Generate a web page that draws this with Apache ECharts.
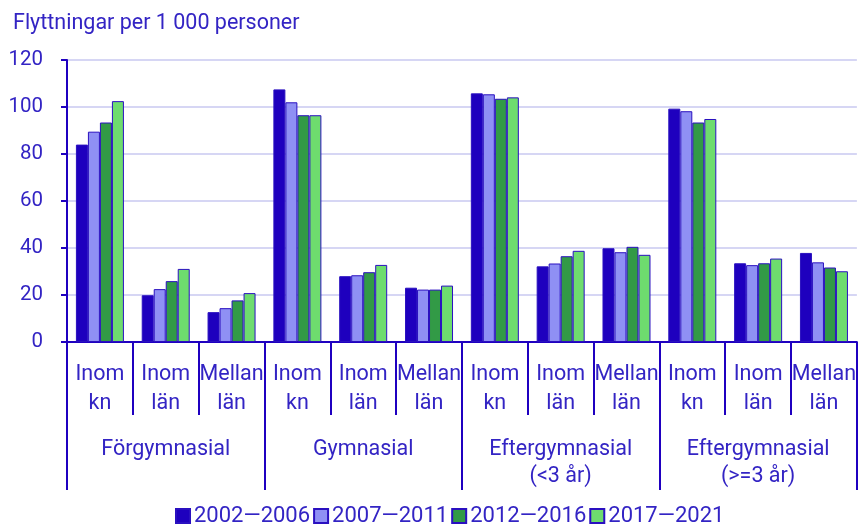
<!DOCTYPE html>
<html>
<head>
<meta charset="utf-8">
<script src="https://cdn.jsdelivr.net/npm/echarts@6/dist/echarts.min.js"></script>
<style>
  html, body { margin: 0; padding: 0; background: #fff; }
  #chart { width: 859px; height: 524px; }
</style>
</head>
<body>
<div id="chart"></div>
<script>
var subLabels = ['Inom\nkn', 'Inom\nlän', 'Mellan\nlän',
                 'Inom\nkn', 'Inom\nlän', 'Mellan\nlän',
                 'Inom\nkn', 'Inom\nlän', 'Mellan\nlän',
                 'Inom\nkn', 'Inom\nlän', 'Mellan\nlän'];
var groupLabels = ['Förgymnasial', 'Gymnasial', 'Eftergymnasial\n(<3 år)', 'Eftergymnasial\n(>=3 år)'];
var periods = ['2002—2006', '2007—2011', '2012—2016', '2017—2021'];

var p2002 = [84.0, 19.9, 12.7, 107.5, 28.0, 23.1, 105.8, 32.2, 39.9, 99.3, 33.5, 37.9];
var p2007 = [89.5, 22.5, 14.4, 102.0, 28.4, 22.3, 105.4, 33.4, 38.2, 98.2, 32.7, 33.9];
var p2012 = [93.4, 25.9, 17.7, 96.5, 29.7, 22.3, 103.5, 36.5, 40.5, 93.4, 33.5, 31.7];
var p2017 = [102.5, 31.1, 20.8, 96.5, 32.8, 24.0, 104.1, 38.8, 37.1, 94.9, 35.5, 30.1];

var colors = ['#1e00be', '#8f90f4', '#329a46', '#6edc6e'];
var textColor = '#3324c4';
var axisColor = '#1f00c0';
var font = 'Roboto';

var chart = echarts.init(document.getElementById('chart'));

function makeSeries(name, data, i) {
  return {
    name: name,
    type: 'bar',
    data: data,
    barWidth: 12,
    barGap: '0%',
    itemStyle: { color: colors[i], borderColor: '#2a10c0', borderWidth: 1 }
  };
}

var option = {
  animation: false,
  textStyle: { fontFamily: font },
  title: {
    text: 'Flyttningar per 1 000 personer',
    left: 8,
    top: 8,
    textStyle: { color: textColor, fontSize: 21.5, fontWeight: 'normal', fontFamily: font }
  },
  legend: {
    data: periods,
    top: 500,
    left: 170,
    itemWidth: 14,
    itemHeight: 14,
    itemGap: 3,
    icon: 'rect',
    textStyle: { color: textColor, fontSize: 22, fontFamily: font, padding: [0, 0, 0, -1] }
  },
  grid: { left: 67, right: 1, top: 60, bottom: 182 },
  xAxis: [{
    type: 'category',
    data: subLabels,
    position: 'bottom',
    axisLine: { show: true, lineStyle: { color: axisColor, width: 2 } },
    axisTick: { show: true, inside: false, length: 73, lineStyle: { color: axisColor, width: 2 } },
    axisLabel: { color: textColor, fontSize: 21.5, lineHeight: 29, margin: 18, interval: 0, fontFamily: font }
  }, {
    type: 'category',
    data: groupLabels,
    position: 'bottom',
    axisLine: { show: false },
    axisTick: { show: true, inside: false, length: 148, lineStyle: { color: axisColor, width: 2 } },
    axisLabel: { color: textColor, fontSize: 21.5, lineHeight: 27, margin: 94, interval: 0, fontFamily: font }
  }],
  yAxis: {
    type: 'value',
    min: 0,
    max: 120,
    interval: 20,
    axisLine: { show: true, lineStyle: { color: axisColor, width: 2 } },
    axisTick: { show: true, inside: false, length: 6, lineStyle: { color: axisColor, width: 2 } },
    axisLabel: { color: textColor, fontSize: 20.5, margin: 24, fontFamily: font },
    splitLine: { lineStyle: { color: '#d6d6f4', width: 2 } }
  },
  series: [
    makeSeries(periods[0], p2002, 0),
    makeSeries(periods[1], p2007, 1),
    makeSeries(periods[2], p2012, 2),
    makeSeries(periods[3], p2017, 3)
  ]
};

chart.setOption(option);
</script>
</body>
</html>
